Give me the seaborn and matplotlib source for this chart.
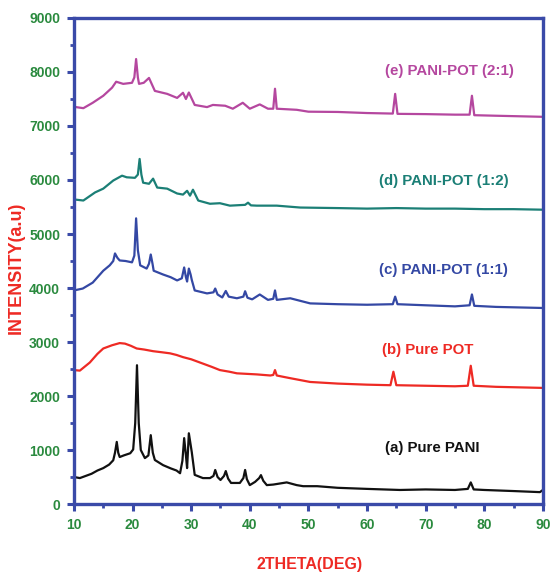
import matplotlib
matplotlib.use("Agg")
import matplotlib.pyplot as plt
import seaborn as sns
import pandas as pd
from matplotlib.ticker import MultipleLocator

# ---- data ----
a_theta = [10, 11, 12, 13, 14, 15, 16, 16.7, 17.0, 17.3, 17.55, 17.8, 18.5, 19.6, 20.1, 20.45, 20.75, 21.05, 21.4, 22.1,
           22.7, 23.1, 23.45, 23.8, 25.2, 26.5, 27.5, 28.1, 28.5, 28.8, 29.1, 29.3, 29.6, 29.9, 30.1, 30.6, 32, 33.2,
           33.8, 34.1, 34.5, 35.0, 35.6, 35.9, 36.3, 36.8, 38.3, 38.9, 39.2, 39.5, 40.0, 40.9, 41.6, 41.9, 42.3, 42.9,
           44, 46.3, 48, 49.1, 51.5, 55, 60, 65.6, 70, 75, 77.2, 77.7, 78.2, 80, 85, 89.5, 90]
a_int = [500, 480, 520, 560, 620, 665, 730, 810, 950, 1150, 950, 870, 900, 940, 1010, 1500, 2570, 1500, 1000, 850,
         900, 1275, 950, 815, 720, 660, 620, 570, 800, 1220, 900, 665, 1310, 1100, 960, 540, 480, 480,
         520, 630, 500, 445, 520, 610, 470, 390, 390, 480, 630, 460, 350, 410, 480, 535, 430, 350,
         360, 400, 350, 330, 330, 300, 280, 260, 270, 260, 280, 400, 270, 260, 240, 220, 260]

b_theta = [10, 11, 12.7, 14, 15, 16.5, 17.8, 18.7, 19.7, 20.7, 22, 23.5, 25, 26.4, 27.5, 28.6, 30, 32, 33.5, 34.9,
           36.5, 37.8, 39.5, 41.2, 43.5, 44.0, 44.3, 44.6, 45.5, 46.9, 50.3, 55, 60, 64.0, 64.5, 65.0, 70, 75,
           77.2, 77.7, 78.2, 82, 86, 90]
b_int = [2480, 2470, 2620, 2780, 2880, 2940, 2980, 2970, 2930, 2880, 2860, 2830, 2810, 2790, 2760, 2720, 2680, 2600,
         2540, 2480, 2450, 2420, 2410, 2400, 2380, 2390, 2480, 2380, 2360, 2330, 2260, 2230, 2210, 2200, 2450, 2200,
         2190, 2180, 2190, 2560, 2190, 2170, 2160, 2150]

c_theta = [10, 11.5, 13.2, 15, 16.1, 16.7, 17.0, 17.4, 17.8, 18.8, 19.9, 20.3, 20.6, 20.9, 21.3, 22.4, 22.8, 23.1,
           23.4, 23.6, 25.2, 26.5, 27.6, 28.4, 28.8, 29.1, 29.3, 29.6, 29.9, 30.1, 30.6, 32.7, 33.8, 34.1, 34.5, 35.3,
           35.9, 36.4, 37.8, 38.9, 39.2, 39.6, 40.4, 41.7, 43.1, 44.0, 44.3, 44.6, 46.9, 50.3, 55, 60, 64.4, 64.8,
           65.2, 70, 75, 77.5, 77.9, 78.3, 82, 86, 90]
c_int = [3955, 3990, 4100, 4320, 4420, 4500, 4640, 4560, 4510, 4500, 4475, 4600, 5290, 4700, 4420, 4360, 4450, 4620,
         4450, 4320, 4250, 4200, 4140, 4180, 4380, 4200, 4120, 4360, 4250, 4150, 3955, 3900, 3920, 3990, 3880, 3825,
         3945, 3840, 3810, 3840, 3940, 3820, 3790, 3880, 3780, 3800, 3955, 3780, 3810, 3715, 3700, 3690, 3700, 3840,
         3700, 3680, 3660, 3680, 3880, 3670, 3650, 3640, 3630]

d_theta = [10, 11.6, 13.6, 15, 16.7, 18.2, 19, 20.4, 20.9, 21.2, 21.5, 21.8, 22.8, 23.5, 24.2, 25.9, 27.6, 28.6, 29.3,
           29.8, 30.3, 31.2, 33.2, 34.9, 36.6, 39.2, 39.7, 40.2, 41.2, 44.6, 48.6, 55, 60, 65, 70, 75, 80, 85, 90]
d_int = [5640, 5620, 5770, 5840, 5990, 6080, 6050, 6040, 6100, 6390, 6100, 5950, 5930, 6025, 5860, 5840, 5750, 5730,
         5800, 5710, 5820, 5620, 5560, 5570, 5525, 5540, 5580, 5530, 5525, 5525, 5490, 5480, 5470, 5480, 5470, 5470,
         5460, 5460, 5450]

e_theta = [10, 11.6, 13.2, 15, 16.5, 17.2, 18.4, 19.9, 20.3, 20.6, 20.9, 21.1, 21.9, 22.8, 23.8, 25.9, 27.6, 28.6,
           29.1, 29.6, 30.6, 32.7, 33.7, 35.8, 37.1, 38.8, 40, 41.7, 43.1, 44.0, 44.3, 44.6, 48, 50, 55, 60, 64.4,
           64.8, 65.2, 70, 75, 77.5, 77.9, 78.3, 82, 86, 90]
e_int = [7355, 7330, 7430, 7560, 7710, 7820, 7780, 7800, 7900, 8240, 7900, 7780, 7800, 7890, 7650, 7595, 7520, 7615,
         7500, 7620, 7390, 7350, 7390, 7375, 7320, 7430, 7320, 7400, 7320, 7320, 7690, 7320, 7300, 7265, 7260, 7240,
         7230, 7595, 7225, 7220, 7210, 7210, 7560, 7200, 7190, 7180, 7170]

series_labels = ["(a) Pure PANI", "(b) Pure POT", "(c) PANI-POT (1:1)", "(d) PANI-POT (1:2)", "(e) PANI-POT (2:1)"]
label_x = [63, 62.5, 62, 62, 63]
label_y = [1035, 2850, 4340, 5990, 8020]
colors = ["#111111", "#ee2a24", "#3448a4", "#1b7f76", "#b5479f"]

x_ticks = [10, 20, 30, 40, 50, 60, 70, 80, 90]
y_ticks = [0, 1000, 2000, 3000, 4000, 5000, 6000, 7000, 8000, 9000]

# ---- styling ----
sns.set_style("ticks")
plt.rcParams["font.family"] = ["Liberation Sans", "DejaVu Sans"]
plt.rcParams["font.weight"] = "bold"

spine_col = "#3a4aa8"
tick_col = "#2a8a3e"
lab_col = "#ee2a24"

fig = plt.figure(figsize=(5.5, 5.73), dpi=100)
ax = fig.add_axes([0.1345, 0.1204, 0.8525, 0.8482])

all_series = [(a_theta, a_int), (b_theta, b_int), (c_theta, c_int), (d_theta, d_int), (e_theta, e_int)]
for (xs, ys), col, name in zip(all_series, colors, series_labels):
    df = pd.DataFrame({"theta": xs, "intensity": ys})
    sns.lineplot(data=df, x="theta", y="intensity", ax=ax, color=col, lw=1.6, estimator=None)

for name, tx, ty, col in zip(series_labels, label_x, label_y, colors):
    ax.text(tx, ty, name, color=col, fontsize=10.8, fontweight="bold", ha="left", va="center")

ax.set_xlim(10, 90)
ax.set_ylim(0, 9000)
ax.set_xticks(x_ticks)
ax.set_yticks(y_ticks)
ax.xaxis.set_minor_locator(MultipleLocator(5))
ax.yaxis.set_minor_locator(MultipleLocator(500))

for s in ax.spines.values():
    s.set_color(spine_col)
    s.set_linewidth(2.4)

ax.tick_params(axis="both", which="major", direction="out", length=5, width=2.2, color=spine_col,
               labelcolor=tick_col, labelsize=10, pad=5)
ax.tick_params(axis="both", which="minor", direction="out", length=3, width=2.0, color=spine_col)
ax.tick_params(top=False, right=False, which="both")
for lab in ax.get_xticklabels() + ax.get_yticklabels():
    lab.set_fontweight("bold")

ax.set_xlabel("2THETA(DEG)", color=lab_col, fontsize=11.5, fontweight="bold")
ax.set_ylabel("INTENSITY(a.u)", color=lab_col, fontsize=13, fontweight="bold")
ax.xaxis.set_label_coords(0.503, -0.109)
ax.yaxis.set_label_coords(-0.104, 0.486)

fig.savefig("out.png", dpi=100)
